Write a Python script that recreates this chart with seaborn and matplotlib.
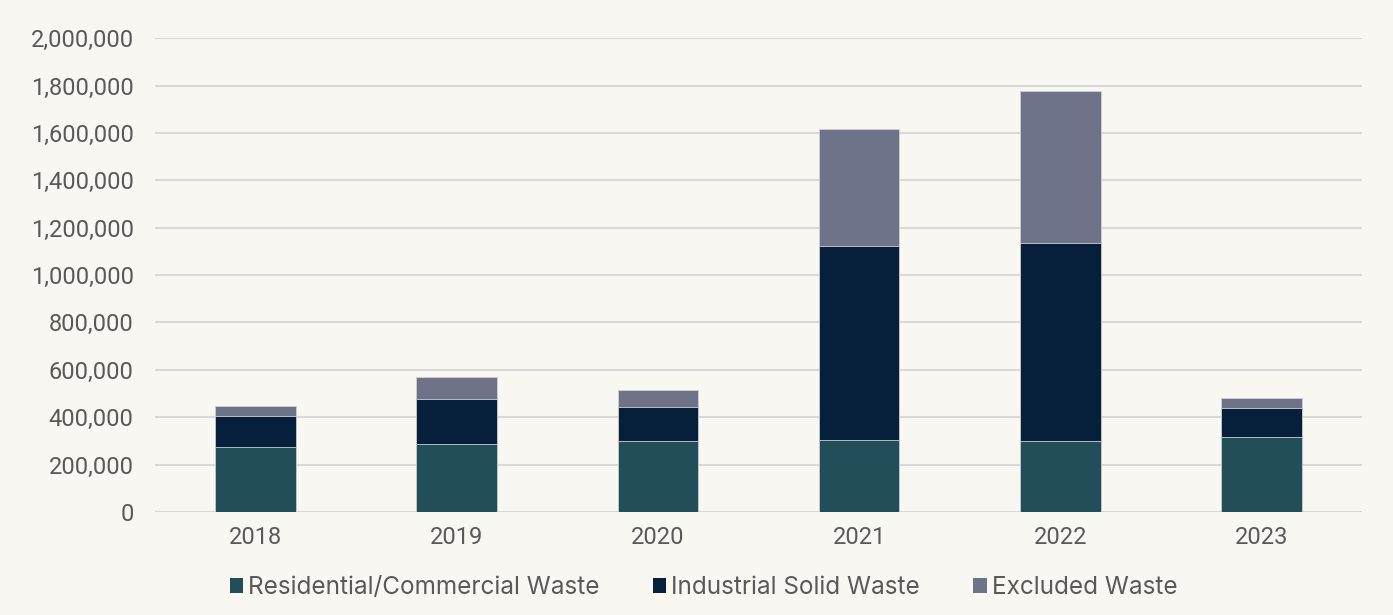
import pandas as pd
import numpy as np
import matplotlib.pyplot as plt
import seaborn as sns
from matplotlib.patches import Patch
from matplotlib.ticker import FuncFormatter

years = ["2018", "2019", "2020", "2021", "2022", "2023"]
residential = [274000, 287000, 300000, 304000, 300000, 316000]
industrial = [131000, 190000, 143000, 818000, 835000, 123000]
excluded = [42000, 93000, 72000, 494000, 641000, 42000]

series = ["Residential/Commercial Waste", "Industrial Solid Waste", "Excluded Waste"]
colors = ["#224E5A", "#061F3A", "#6F7389"]
bg = "#F9F7F1"

df = pd.DataFrame({"year": years, series[0]: residential,
                   series[1]: industrial, series[2]: excluded})
# hauteurs cumulées pour empiler les barres
cum = df[series].cumsum(axis=1)
cum["year"] = df["year"]

sns.set_theme(style="white")
plt.rcParams["font.family"] = ["Roboto", "DejaVu Sans"]

fig = plt.figure(figsize=(13.93, 6.15), dpi=100, facecolor=bg)
ax = fig.add_axes([0.111, 0.1675, 0.867, 0.7705])
ax.set_facecolor(bg)

# on dessine du haut vers le bas, chaque couche recouvre la précédente
for s, c in zip(reversed(series), reversed(colors)):
    sns.barplot(data=cum, x="year", y=s, color=c, width=0.4, saturation=1,
                edgecolor="#D0D0D0", linewidth=0.6, ax=ax, zorder=3)

ax.set_ylim(0, 2000000)
ax.set_yticks(np.arange(0, 2000001, 200000))
ax.yaxis.set_major_formatter(FuncFormatter(lambda v, p: f"{int(v):,}"))
ax.grid(axis="y", color="#D9D9D9", linewidth=1.5, zorder=0)
ax.set_axisbelow(True)
for sp in ax.spines.values():
    sp.set_visible(False)
ax.set_xlabel("")
ax.set_ylabel("")
ax.tick_params(axis="both", length=0, labelsize=17, labelcolor="#595959")
ax.tick_params(axis="y", pad=15)
ax.tick_params(axis="x", pad=10)

handles = [Patch(facecolor=c, edgecolor="none", label=s) for s, c in zip(series, colors)]
fig.legend(handles=handles, loc="center", bbox_to_anchor=(0.505, 0.045), ncol=3,
           frameon=False, handlelength=0.55, handleheight=0.55, handletextpad=0.2,
           columnspacing=2.2, prop={"family": ["Inter", "DejaVu Sans"], "size": 17.5},
           labelcolor="#595959")

fig.savefig("out.png", dpi=100, facecolor=bg)
